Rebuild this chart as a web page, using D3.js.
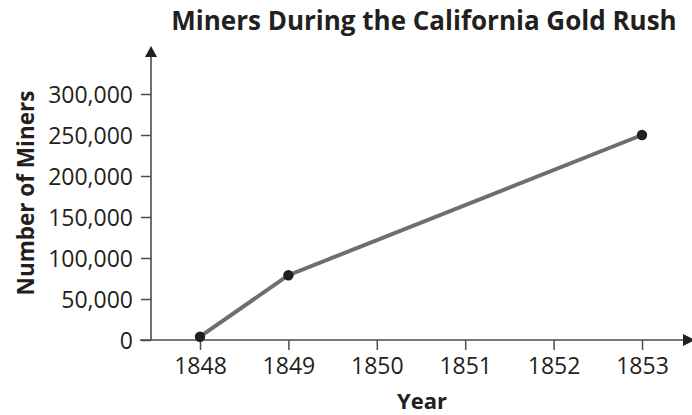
<!DOCTYPE html>
<html>
<head>
<meta charset="utf-8">
<script src="https://cdn.jsdelivr.net/npm/d3@7/dist/d3.min.js"></script>
<style>
  html, body { margin: 0; padding: 0; background: #ffffff; }
  svg { display: block; }
  text { font-family: "Open Sans", "Noto Sans", sans-serif; fill: #231f20; }
</style>
</head>
<body>
<svg id="chart" width="692" height="415"></svg>
<script>
// Miners in California by year
const years = [1848, 1849, 1853];
const miners = [4000, 79000, 250000];
const yTicks = [0, 50000, 100000, 150000, 200000, 250000, 300000];
const xTicks = [1848, 1849, 1850, 1851, 1852, 1853];

const svg = d3.select("#chart");
const ink = "#231f20";
const axisGrey = "#4d4d4f";

const x = d3.scaleLinear().domain([1848, 1853]).range([200, 642]);
const y = d3.scaleLinear().domain([0, 300000]).range([340, 94]);
const originX = 151;

// Title
svg.append("text")
  .attr("x", 424).attr("y", 30)
  .attr("text-anchor", "middle")
  .style("font-weight", 700).style("font-size", "26px")
  .text("Miners During the California Gold Rush");

// Y axis
const yAxis = svg.append("g")
  .attr("transform", `translate(${originX},0)`)
  .call(d3.axisLeft(y).tickValues(yTicks).tickSize(10).tickPadding(8)
    .tickFormat(d3.format(",")));
yAxis.select(".domain").remove();
yAxis.selectAll(".tick line").attr("stroke", axisGrey).attr("stroke-width", 1.5);
yAxis.selectAll(".tick text")
  .style("font-size", "23px").style("font-family", "'Open Sans', sans-serif")
  .attr("fill", ink).attr("dy", "0.36em");

// X axis
const xAxis = svg.append("g")
  .attr("transform", `translate(0,${y(0)})`)
  .call(d3.axisBottom(x).tickValues(xTicks).tickSize(10).tickPadding(8)
    .tickFormat(d3.format("d")));
xAxis.select(".domain").remove();
xAxis.selectAll(".tick line").attr("stroke", axisGrey).attr("stroke-width", 1.5);
xAxis.selectAll(".tick text")
  .style("font-size", "23px").style("font-family", "'Open Sans', sans-serif")
  .attr("fill", ink);

// Axis lines with arrows
svg.append("line")
  .attr("x1", originX).attr("x2", originX)
  .attr("y1", y(0)).attr("y2", 56)
  .attr("stroke", axisGrey).attr("stroke-width", 1.6);
svg.append("path")
  .attr("d", `M${originX},46 L${originX - 6},57 L${originX + 6},57 Z`)
  .attr("fill", ink);

svg.append("line")
  .attr("x1", 140).attr("x2", 684)
  .attr("y1", y(0)).attr("y2", y(0))
  .attr("stroke", axisGrey).attr("stroke-width", 1.6);
svg.append("path")
  .attr("d", `M695,${y(0)} L683,${y(0) - 6} L683,${y(0) + 6} Z`)
  .attr("fill", ink);

// Axis titles
svg.append("text")
  .attr("x", 422).attr("y", 409)
  .attr("text-anchor", "middle")
  .style("font-weight", 700).style("font-size", "22px")
  .text("Year");

svg.append("text")
  .attr("transform", "translate(34,193) rotate(-90)")
  .attr("text-anchor", "middle")
  .style("font-weight", 700).style("font-size", "22.5px")
  .text("Number of Miners");

// Data line and points
const pts = years.map((yr, i) => [yr, miners[i]]);
svg.append("path")
  .datum(pts)
  .attr("d", d3.line().x(d => x(d[0])).y(d => y(d[1])))
  .attr("fill", "none")
  .attr("stroke", "#6d6e71")
  .attr("stroke-width", 4);

svg.selectAll("circle.pt")
  .data(pts)
  .join("circle")
  .attr("class", "pt")
  .attr("cx", d => x(d[0]))
  .attr("cy", d => y(d[1]))
  .attr("r", 5.2)
  .attr("fill", ink);
</script>
</body>
</html>
